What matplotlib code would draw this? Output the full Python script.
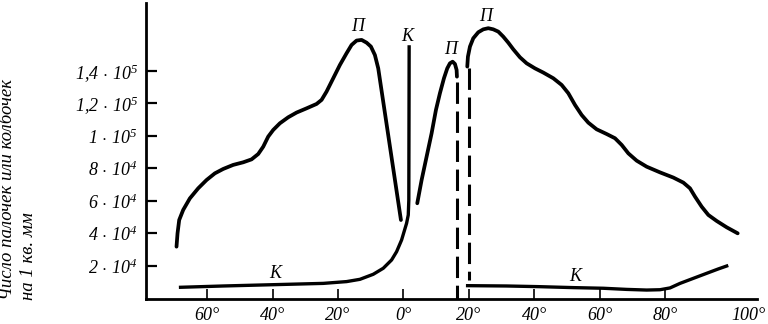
import matplotlib
matplotlib.use("Agg")
import matplotlib.pyplot as plt

plt.rcParams['mathtext.fontset'] = 'custom'
plt.rcParams['mathtext.rm'] = 'Liberation Serif:italic'
plt.rcParams['mathtext.it'] = 'Liberation Serif:italic'
serif = ['Liberation Serif', 'DejaVu Serif']

# rods (П), left of fovea
rod_left_deg = [-69.37, -69.06, -68.55, -67.33, -65.29, -62.74, -60.19, -57.65, -55.10, -52.04,
                -48.98, -46.43, -44.39, -42.86, -41.34, -39.81, -37.77, -35.22, -32.67, -29.61,
                -26.55, -25.02, -23.50, -21.46, -19.42, -17.38, -15.85, -14.32, -12.79, -11.26,
                -9.94, -8.72, -7.70, -0.76]
rod_left_val = [31900, 40100, 48300, 54500, 61600, 67800, 72900, 77000, 79700, 82200,
                83800, 85600, 88900, 93400, 99600, 103700, 107800, 111500, 114400, 117000,
                119700, 122200, 127300, 135500, 143700, 150900, 156000, 158700, 159100, 157400,
                155000, 149800, 141600, 48300]

# rods between fovea and blind spot
rod_mid_deg = [4.23, 5.56, 7.09, 8.61, 9.94, 11.16, 12.39, 13.40, 14.22, 15.04, 15.75, 16.26, 16.36]
rod_mid_val = [58600, 72900, 87300, 101600, 116000, 126300, 135500, 141600, 144700, 145700,
               144300, 140600, 136500]

# rods beyond blind spot
rod_right_deg = [19.52, 19.72, 20.34, 21.35, 22.88, 24.41, 25.94, 27.47, 29.00, 30.53, 32.06,
                 33.59, 35.63, 37.67, 40.21, 42.76, 45.82, 48.37, 50.41, 52.45, 54.49, 56.52,
                 59.07, 62.13, 64.68, 66.72, 68.76, 71.31, 74.36, 78.44, 82.52, 85.58, 87.61,
                 89.14, 91.18, 93.22, 95.77, 98.83, 102.19]
rod_right_val = [142700, 148800, 155000, 160100, 163800, 165600, 166300, 165600, 164200, 161100,
                 157400, 153300, 148400, 144700, 141600, 139000, 135500, 131400, 126300, 119100,
                 112900, 108200, 104100, 101200, 98600, 94500, 89300, 84800, 81100, 77600,
                 74400, 71300, 67800, 62700, 56500, 51400, 47700, 43800, 40100]

# cones (К)
cone_left_deg = [-68.14, -55.10, -39.81, -24.52, -17.38, -13.30, -9.23, -6.17, -3.62, -2.09,
                 -0.56, 0.97, 1.48, 1.65, 1.75]
cone_left_val = [6900, 7700, 8500, 9300, 10400, 11800, 14900, 18600, 23700, 28800,
                 36000, 46300, 51400, 60600, 154800]
cone_right_deg = [19.62, 31.55, 41.23, 51.94, 61.11, 68.25, 74.36, 78.44, 81.50, 84.56,
                  88.63, 92.71, 96.28, 98.83]
cone_right_val = [7900, 7700, 7300, 6700, 6300, 5600, 5200, 5400, 6500, 9300,
                  12400, 15500, 18200, 20000]

# blind spot edges (dashed)
blind_deg = [16.4, 20.0]
blind_top = [133000, 142000]
blind_bottom = [0, 11400]

x_ticks = [-60, -40, -20, 0, 20, 40, 60, 80]
x_labels = ['60°', '40°', '20°', '0°', '20°', '40°', '60°', '80°']
y_ticks = [20000, 40000, 60000, 80000, 100000, 120000, 140000]
y_labels = [r'$2\,\cdot\,10^4$', r'$4\,\cdot\,10^4$', r'$6\,\cdot\,10^4$', r'$8\,\cdot\,10^4$',
            r'$1\,\cdot\,10^5$', r'$1{,}2\,\cdot\,10^5$', r'$1{,}4\,\cdot\,10^5$']

fig = plt.figure(figsize=(7.68, 3.24), dpi=100)
ax = fig.add_axes([0.1901, 0.0787, 0.7956, 0.912])

lw = 2.7
ax.plot(rod_left_deg, rod_left_val, 'k-', lw=lw, solid_capstyle='round', solid_joinstyle='round')
ax.plot(rod_mid_deg, rod_mid_val, 'k-', lw=lw, solid_capstyle='round', solid_joinstyle='round')
ax.plot(rod_right_deg, rod_right_val, 'k-', lw=lw, solid_capstyle='round', solid_joinstyle='round')
ax.plot(cone_left_deg, cone_left_val, 'k-', lw=2.4, solid_joinstyle='round')
ax.plot(cone_right_deg, cone_right_val, 'k-', lw=2.4, solid_joinstyle='round')
for d, t, b in zip(blind_deg, blind_top, blind_bottom):
    ax.plot([d, d], [t, b], 'k-', lw=2.2, dashes=(7, 2.5))

txt = dict(family=serif, style='italic', fontsize=13, ha='center', va='center')
ax.text(-14.0, 167300, 'П', **txt)
ax.text(1.3, 161100, 'К', **txt)
ax.text(14.3, 153400, 'П', **txt)
ax.text(25.2, 173400, 'П', **txt)
ax.text(-39.2, 15500, 'К', **txt)
ax.text(52.6, 13400, 'К', **txt)

ax.set_xlim(-78.7, 108.1)
ax.set_ylim(0, 181800)
for s in ['top', 'right']:
    ax.spines[s].set_visible(False)
for s in ['left', 'bottom']:
    ax.spines[s].set_linewidth(2.0)

ax.set_xticks(x_ticks, x_labels)
ax.set_xticks([105.4], ['100°'], minor=True)
ax.set_yticks(y_ticks, y_labels)
ax.tick_params(axis='x', which='major', direction='in', length=7.5, width=1.2, pad=6)
ax.tick_params(axis='x', which='minor', direction='in', length=0, pad=6)
ax.tick_params(axis='y', direction='in', length=8, width=1.6, pad=6)
for lab in ax.get_xticklabels() + ax.get_xticklabels(minor=True):
    lab.set_family(serif)
    lab.set_style('italic')
    lab.set_fontsize(13)
for lab in ax.get_yticklabels():
    lab.set_fontsize(13)

fig.text(0.023, 0.074, 'Число палочек или колбочек\nна 1 кв. мм', rotation=90,
         ha='center', va='bottom', ma='left', family=serif, style='italic',
         fontsize=13.5, linespacing=1.3)

fig.savefig('out.png', dpi=100)
